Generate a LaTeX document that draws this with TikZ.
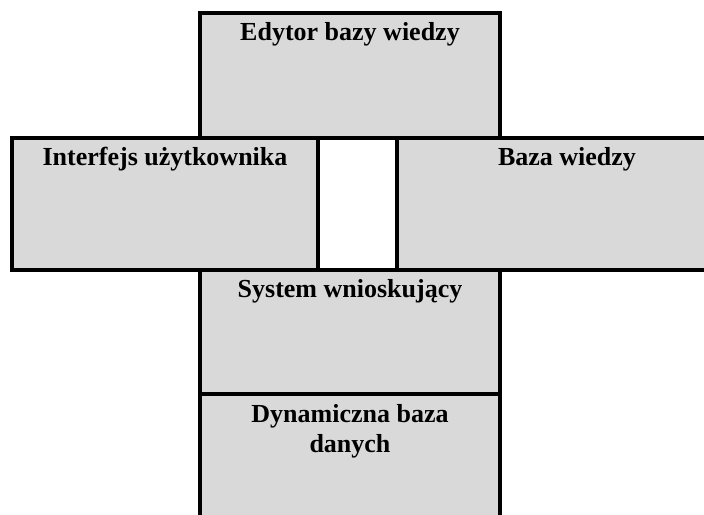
\documentclass[tikz,border=0pt]{standalone}
\usepackage{fontspec}
\setmainfont{Liberation Serif}
\usetikzlibrary{calc}
\definecolor{boxgray}{HTML}{D9D9D9}
\tikzset{
  box/.style={draw=black, fill=boxgray, line width=4pt, rectangle, inner sep=0pt, outer sep=0pt, anchor=north west},
  gapbox/.style={draw=black, fill=white, line width=4pt, rectangle, inner sep=0pt, outer sep=0pt, anchor=north west},
  lbl/.style={font=\fontsize{26}{30}\selectfont\bfseries, anchor=base, inner sep=0pt, align=center}
}
\begin{document}
\begin{tikzpicture}[x=1pt,y=-1pt]
\useasboundingbox (0,0) rectangle (704,514);
\clip (0,0) rectangle (704,514);
% boxes
\node[box, minimum width=300pt, minimum height=125.3pt] (edytor) at (200,12.7) {};
\node[box, minimum width=306pt, minimum height=132pt] (interfejs) at (12,138) {};
\node[gapbox, minimum width=79pt, minimum height=132pt] (gap) at (318,138) {};
\node[box, minimum width=340pt, minimum height=132pt] (baza) at (397,138) {};
\node[box, minimum width=300pt, minimum height=124pt] (system) at (200,270) {};
\node[box, minimum width=300pt, minimum height=160pt] (dyn) at (200,394) {};
% labels
\node[lbl] (tEdytor) at ($(edytor.north)+(0,28)$) {Edytor bazy wiedzy};
\node[lbl] (tInterfejs) at ($(interfejs.north)+(0,27)$) {Interfejs użytkownika};
\node[lbl] (tBaza) at ($(baza.north)+(0,27)$) {Baza wiedzy};
\node[lbl] (tSystem) at ($(system.north)+(0,27)$) {System wnioskujący};
\node[lbl] (tDyn) at ($(dyn.north)+(0,58)$) {Dynamiczna baza\\danych};
\end{tikzpicture}
\end{document}
